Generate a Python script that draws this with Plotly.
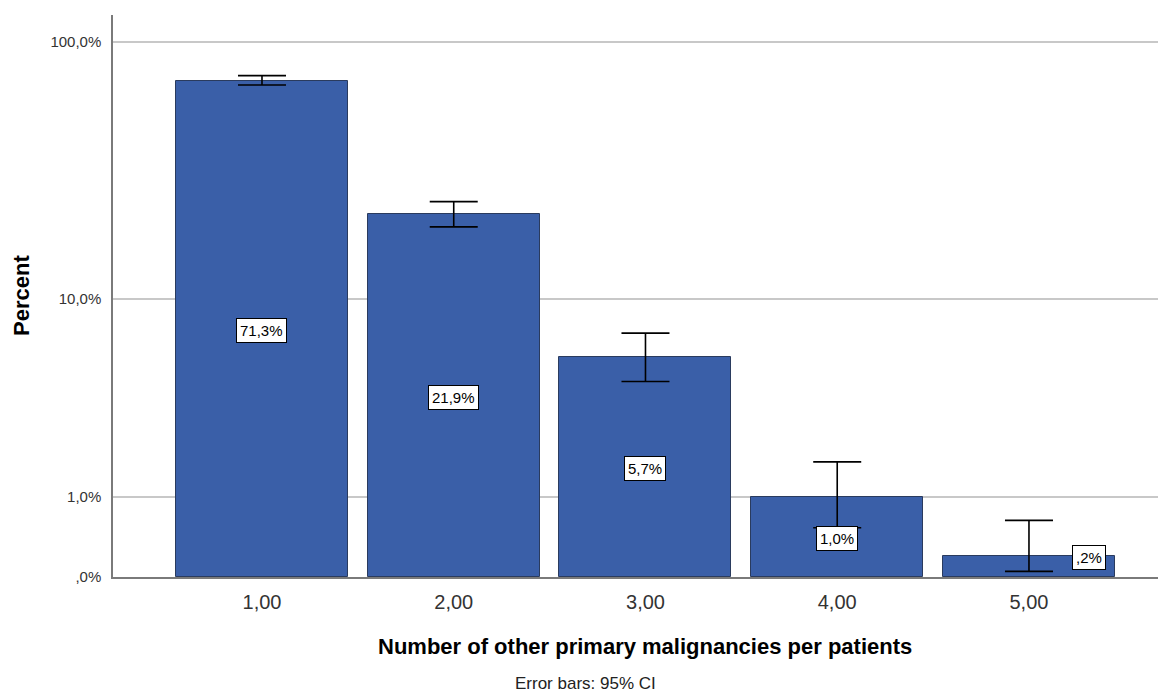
import numpy as np
import plotly.graph_objects as go

categories = ["1,00", "2,00", "3,00", "4,00", "5,00"]
percent = [71.3, 21.9, 5.7, 1.0, 0.2]
ci_low = [68.7, 19.5, 4.4, 0.53, 0.05]
ci_high = [74.6, 24.5, 7.2, 1.7, 0.63]
value_labels = ["71,3%", "21,9%", "5,7%", "1,0%", ",2%"]
ytick_values = [0, 1, 10, 100]
ytick_labels = [",0%", "1,0%", "10,0%", "100,0%"]

def safelog(v):
    v = np.asarray(v, dtype=float)
    return np.sign(v) * np.log10(1 + np.abs(v))

x = np.arange(1, len(categories) + 1)
t = safelog(percent)
t_hi = safelog(ci_high)
t_lo = safelog(ci_low)

FONT = "Liberation Sans, Arial"
PLOT_L, PLOT_R, PLOT_T, PLOT_B = 113, 1163, 15, 577  # screen pixels of plot area
def px(xp):
    return (xp - PLOT_L) / (PLOT_R - PLOT_L)
def py(yp):
    return (PLOT_B - yp) / (PLOT_B - PLOT_T)

fig = go.Figure()
fig.add_trace(go.Bar(
    x=x, y=t, width=0.897,
    marker=dict(color="#3A5FA8", line=dict(color="#2A3B5E", width=1)),
    error_y=dict(type="data", symmetric=False, array=t_hi - t, arrayminus=t - t_lo,
                 color="black", thickness=1.6, width=24),
    showlegend=False, hoverinfo="skip",
))

for i, lab in enumerate(value_labels):
    xi = x[i]
    yi = t[i] / 2
    xshift, yshift = 0, -2
    if i == len(value_labels) - 1:
        xshift, yshift = 60, 9
    fig.add_annotation(x=xi, y=yi, text=lab, showarrow=False, xshift=xshift, yshift=yshift,
                       font=dict(family=FONT, size=15, color="black"),
                       bgcolor="white", bordercolor="black", borderwidth=1, borderpad=3)

fig.add_annotation(text="<b>Number of other primary malignancies per patients</b>",
                   xref="paper", yref="paper", x=px(645), y=py(646),
                   showarrow=False, xanchor="center", yanchor="middle",
                   font=dict(family=FONT, size=22, color="black"))
fig.add_annotation(text="<b>Percent</b>", textangle=-90,
                   xref="paper", yref="paper", x=px(21), y=py(296),
                   showarrow=False, xanchor="center", yanchor="middle",
                   font=dict(family=FONT, size=22, color="black"))
fig.add_annotation(text="Error bars: 95% CI", xref="paper", yref="paper",
                   x=px(585), y=py(683),
                   showarrow=False, xanchor="center", yanchor="middle",
                   font=dict(family=FONT, size=17, color="#222"))

fig.update_layout(
    width=1166, height=691,
    margin=dict(l=105, r=11, t=7, b=122),
    paper_bgcolor="white", plot_bgcolor="white",
    bargap=0,
    xaxis=dict(
        range=[0.223, 5.699], tickvals=list(x), ticktext=categories,
        showgrid=False, showline=True, linecolor="#7a7a7a", linewidth=1.5,
        ticks="", zeroline=False, ticklabelstandoff=6,
        tickfont=dict(family=FONT, size=20, color="#333"),
    ),
    yaxis=dict(
        range=[0, 2.1057], tickvals=list(safelog(ytick_values)), ticktext=ytick_labels,
        showgrid=True, gridcolor="#c8c8c8", gridwidth=1.5,
        showline=True, linecolor="#7a7a7a", linewidth=1.5,
        ticks="", zeroline=False, ticklabelstandoff=7,
        tickfont=dict(family=FONT, size=15, color="#333"),
    ),
)

fig.write_html("out.html")
